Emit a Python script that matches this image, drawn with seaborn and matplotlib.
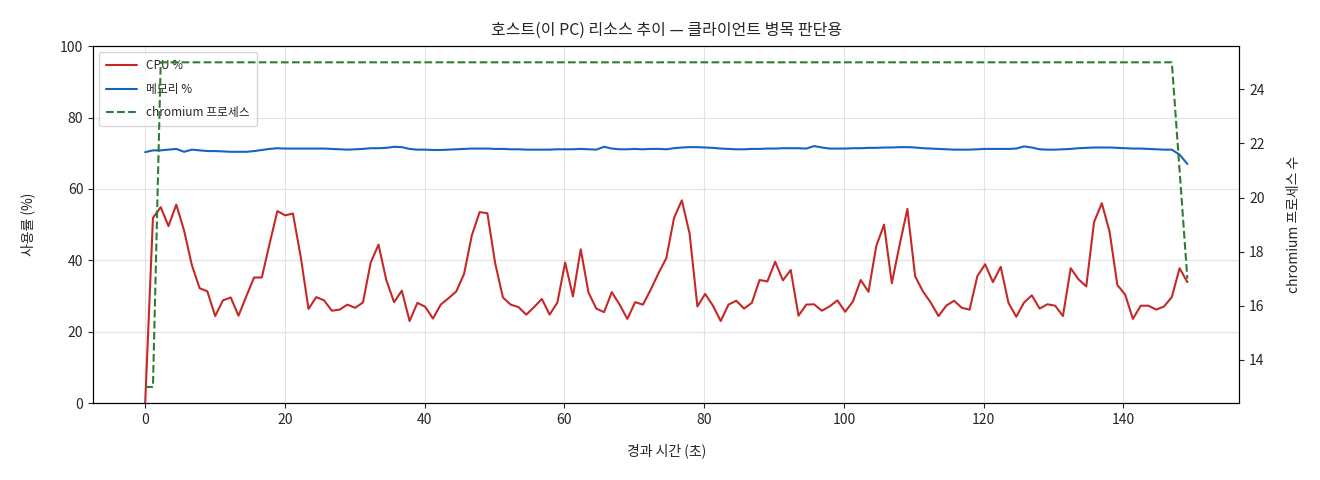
import numpy as np
import pandas as pd
import matplotlib
matplotlib.use("Agg")
import matplotlib.pyplot as plt
import seaborn as sns

# sampling interval of the monitor (seconds)
step = 1.113

cpu = [0, 51.9, 54.9, 49.6, 55.6, 48.4, 38.7, 32.2, 31.3, 24.4,
       28.8, 29.6, 24.5, 29.9, 35.2, 35.2, 44.7, 53.8, 52.6, 53.1,
       41.0, 26.4, 29.7, 28.8, 25.9, 26.2, 27.6, 26.7, 28.2, 39.4,
       44.4, 34.5, 28.3, 31.5, 23.0, 28.1, 27.0, 23.7, 27.6, 29.4,
       31.3, 36.2, 47.0, 53.5, 53.2, 39.2, 29.6, 27.6, 26.9, 24.8,
       26.9, 29.2, 24.8, 28.2, 39.4, 29.9, 43.1, 31.0, 26.5, 25.5,
       31.1, 27.6, 23.6, 28.3, 27.6, 31.8, 36.4, 40.6, 51.9, 56.8,
       47.5, 27.1, 30.6, 27.3, 23.0, 27.6, 28.7, 26.5, 28.1, 34.5,
       34.1, 39.6, 34.4, 37.3, 24.5, 27.6, 27.7, 25.9, 27.1, 28.8,
       25.6, 28.5, 34.5, 31.2, 44.0, 50.0, 33.6, 44.3, 54.4, 35.5,
       31.3, 28.2, 24.4, 27.3, 28.7, 26.7, 26.2, 35.6, 38.9, 33.9,
       38.2, 28.1, 24.2, 28.2, 30.2, 26.5, 27.7, 27.3, 24.4, 37.8,
       34.7, 32.7, 50.7, 56.0, 48.0, 33.1, 30.4, 23.6, 27.3, 27.3,
       26.2, 27.1, 29.7, 37.8, 33.9]

mem = [70.3, 70.8, 70.8, 71.0, 71.2, 70.4, 71.0, 70.8, 70.6, 70.6,
       70.5, 70.4, 70.4, 70.4, 70.6, 70.9, 71.2, 71.4, 71.3, 71.3,
       71.3, 71.3, 71.3, 71.3, 71.2, 71.1, 71.0, 71.1, 71.2, 71.4,
       71.4, 71.5, 71.8, 71.7, 71.2, 71.0, 71.0, 70.9, 70.9, 71.0,
       71.1, 71.2, 71.3, 71.3, 71.3, 71.2, 71.2, 71.1, 71.1, 71.0,
       71.0, 71.0, 71.0, 71.1, 71.1, 71.1, 71.2, 71.1, 71.0, 71.8,
       71.3, 71.1, 71.1, 71.2, 71.1, 71.2, 71.2, 71.1, 71.4, 71.6,
       71.7, 71.7, 71.6, 71.5, 71.3, 71.2, 71.1, 71.1, 71.2, 71.2,
       71.3, 71.3, 71.4, 71.4, 71.4, 71.3, 72.0, 71.6, 71.3, 71.3,
       71.3, 71.4, 71.4, 71.5, 71.5, 71.6, 71.6, 71.7, 71.7, 71.6,
       71.4, 71.3, 71.2, 71.1, 71.0, 71.0, 71.0, 71.1, 71.2, 71.2,
       71.2, 71.2, 71.3, 71.9, 71.6, 71.1, 71.0, 71.0, 71.1, 71.2,
       71.4, 71.5, 71.6, 71.6, 71.6, 71.5, 71.4, 71.3, 71.3, 71.2,
       71.1, 71.0, 71.0, 69.6, 67.0]

chromium = [13, 13] + [25] * 131 + [21, 17]

t = np.arange(len(cpu)) * step
df = pd.DataFrame({"t": t, "cpu": cpu, "mem": mem, "chromium": chromium})

sns.set_style("ticks")
plt.rcParams["font.family"] = ["Noto Sans CJK KR", "DejaVu Sans"]
plt.rcParams["axes.unicode_minus"] = False

fig, ax1 = plt.subplots(figsize=(13.2, 4.8), dpi=100)
fig.subplots_adjust(left=0.0705, right=0.939, top=0.904, bottom=0.160)

sns.lineplot(data=df, x="t", y="cpu", ax=ax1, color="#c62828", lw=1.5, label="CPU %")
sns.lineplot(data=df, x="t", y="mem", ax=ax1, color="#1565c0", lw=1.5, label="메모리 %")
ax1.set_ylim(0, 100)
ax1.set_xlabel("경과 시간 (초)", fontsize=10, labelpad=12)
ax1.set_ylabel("사용률 (%)", fontsize=10, labelpad=18)
ax1.grid(True, color="#dddddd", alpha=0.8, lw=0.8)

ax2 = ax1.twinx()
sns.lineplot(data=df, x="t", y="chromium", ax=ax2, color="#2e7d32", lw=1.5,
             linestyle="--", label="chromium 프로세스")
ax2.set_ylabel("chromium 프로세스 수", fontsize=10, labelpad=16)
ax2.set_yticks([14, 16, 18, 20, 22, 24])
ax2.grid(False)

h1, l1 = ax1.get_legend_handles_labels()
h2, l2 = ax2.get_legend_handles_labels()
ax2.get_legend().remove()
ax1.legend(h1 + h2, l1 + l2, loc="upper left", fontsize=8.5, frameon=True,
           labelspacing=0.9, handlelength=2.6, borderpad=0.6)

for ax in (ax1, ax2):
    ax.tick_params(labelsize=10)
    for s in ax.spines.values():
        s.set_visible(True)
        s.set_color("black")

ax1.set_title("호스트(이 PC) 리소스 추이 — 클라이언트 병목 판단용", fontsize=11.5, pad=8)

fig.savefig("out.png", dpi=100)
